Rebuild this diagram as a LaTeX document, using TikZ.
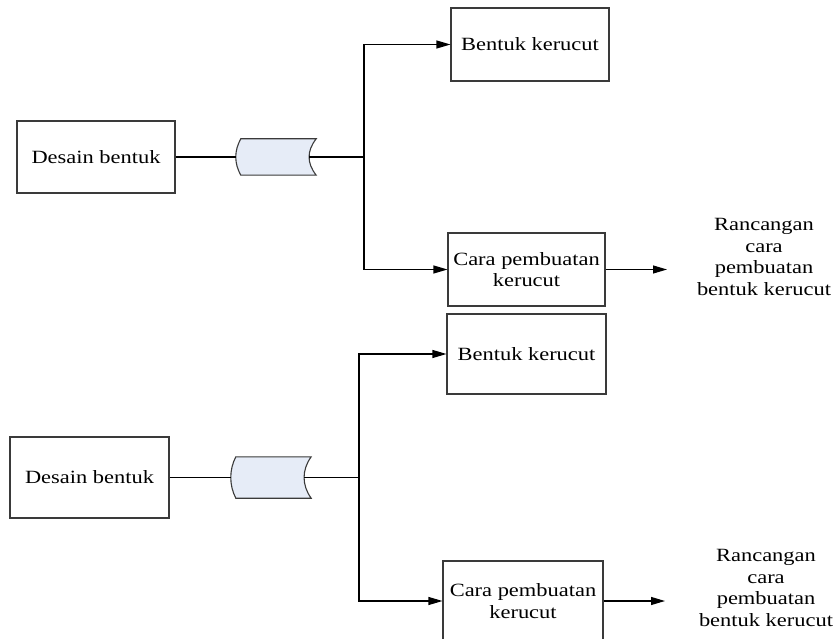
\documentclass[tikz,border=0pt]{standalone}
\usepackage{fontspec}
\setmainfont{Liberation Serif}[FakeStretch=1.2]
\usetikzlibrary{arrows.meta,calc}
\definecolor{boxline}{HTML}{3A3A3A}
\definecolor{storefill}{HTML}{E6ECF7}
\begin{document}
\begin{tikzpicture}[x=1pt,y=-1pt,
  txt/.style={font=\fontsize{18.7}{21.5}\selectfont,align=center,text=black},
  procbox/.style={txt,draw=boxline,line width=1.1pt,inner sep=0pt,minimum width=#1},
  storebox/.style={inner sep=0pt,minimum width=80pt},
  storeline/.style={draw=boxline,fill=storefill,line width=1.1pt},
  conn/.style={line width=1.1pt,draw=black},
  arr/.style={conn,-{Triangle[length=14pt,width=8pt]}}
]
\useasboundingbox (0,0) rectangle (839,639);
\begin{scope}
\clip (0,0) rectangle (839,639);
% ---------- top diagram ----------
\node[procbox=158pt,minimum height=72pt] (d1) at (96,157) {Desain bentuk};
\node[storebox,minimum height=36pt] (s1) at (276,157) {};
\node[procbox=158pt,minimum height=73pt] (b1) at (530,44.5) {Bentuk kerucut};
\node[procbox=157pt,minimum height=73pt] (c1) at (526.5,269.5) {Cara pembuatan\\kerucut};
\node[txt] (r1) at (764,257) {Rancangan\\cara\\pembuatan\\bentuk kerucut};
\coordinate (j1) at (364,157);
\coordinate (a1) at (667,269.5);
\draw[storeline] ($(s1.north west)+(5,0)$) -- (s1.north east)
  .. controls ($(s1.north east)+(-9.5,12)$) and ($(s1.south east)+(-9.5,-12)$) .. (s1.south east)
  -- ($(s1.south west)+(5,0)$)
  .. controls ($(s1.south west)+(-1.7,-12)$) and ($(s1.north west)+(-1.7,12)$) .. cycle;
\draw[conn] (d1.east) -- (s1.west);
\draw[conn] ($(s1.east)+(-7,0)$) -- (j1);
\draw[arr] (j1) |- (b1.west);
\draw[arr] (j1) |- (c1.west);
\draw[arr] (c1.east) -- (a1);
% ---------- bottom diagram ----------
\node[procbox=159pt,minimum height=81pt] (d2) at (89.5,477.5) {Desain bentuk};
\node[storebox,minimum height=41pt] (s2) at (271,477.5) {};
\node[procbox=159pt,minimum height=80pt] (b2) at (526.5,354) {Bentuk kerucut};
\node[procbox=160pt,minimum height=80pt] (c2) at (523,601) {Cara pembuatan\\kerucut};
\node[txt] (r2) at (766,588) {Rancangan\\cara\\pembuatan\\bentuk kerucut};
\coordinate (j2) at (359,477.5);
\coordinate (a2) at (665,601);
\draw[storeline] ($(s2.north west)+(5,0)$) -- (s2.north east)
  .. controls ($(s2.north east)+(-9.5,13)$) and ($(s2.south east)+(-9.5,-13)$) .. (s2.south east)
  -- ($(s2.south west)+(5,0)$)
  .. controls ($(s2.south west)+(-1.7,-13)$) and ($(s2.north west)+(-1.7,13)$) .. cycle;
\draw[conn] (d2.east) -- (s2.west);
\draw[conn] ($(s2.east)+(-7,0)$) -- (j2);
\draw[arr] (j2) |- (b2.west);
\draw[arr] (j2) |- (c2.west);
\draw[arr] (c2.east) -- (a2);
\end{scope}
\end{tikzpicture}
\end{document}
